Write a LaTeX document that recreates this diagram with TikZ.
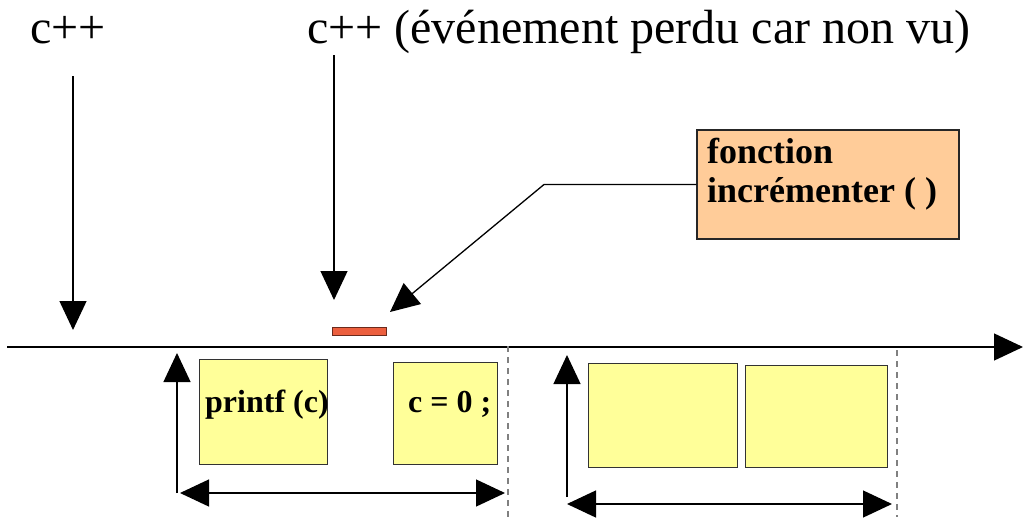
\documentclass[tikz,border=0pt]{standalone}
\usepackage{fontspec}
\setmainfont{Liberation Serif}
\usetikzlibrary{arrows.meta}
\definecolor{boxyellow}{HTML}{FFFF99}
\definecolor{boxorange}{HTML}{FFCC99}
\definecolor{eventred}{HTML}{EC5F3E}
\definecolor{eventedge}{HTML}{6B2A1C}
\definecolor{sepgray}{HTML}{808080}
\tikzset{
  px/.style={x={(1pt,0)},y={(0,-1pt)}},
  bigtip/.tip={Triangle[width=27pt,length=29pt]},
  conn/.style={line width=1.3pt,-bigtip},
  both/.style={line width=1.3pt,bigtip-bigtip},
  codebox/.style={draw=black!80,line width=0.9pt,fill=boxyellow,inner sep=0pt},
  notebox/.style={draw=black!85,line width=1.1pt,fill=boxorange,inner sep=0pt},
  sep/.style={draw=sepgray,line width=1.2pt,dash pattern=on 6pt off 5pt},
  toplabel/.style={anchor=base west,inner sep=0pt,font=\fontsize{48}{56}\selectfont},
  boldlabel/.style={anchor=base west,inner sep=0pt,font=\fontsize{32}{38}\selectfont\bfseries},
  notelabel/.style={anchor=base west,inner sep=0pt,font=\fontsize{36}{39}\selectfont\bfseries},
}
\begin{document}
\begin{tikzpicture}[px]
\useasboundingbox (0,0) rectangle (1023,517);

% labels above the time line
\node[toplabel] (inc1) at (30,43) {c++};
\node[toplabel] (inc2) at (307,43) {c++ (événement perdu car non vu)};

% time line
\coordinate (t0) at (7,347);
\coordinate (t1) at (1023,347);
\draw[conn] (t0) -- (t1);

% lost event marker
\node[draw=eventedge,line width=0.9pt,fill=eventred,minimum width=54pt,minimum height=8pt,inner sep=0pt] (evt) at (359,331) {};

% event arrows
\coordinate (a1s) at (73,76);
\coordinate (a1e) at (73,330);
\draw[conn] (a1s) -- (a1e);
\coordinate (a2s) at (334,55);
\coordinate (a2e) at (334,300);
\draw[conn] (a2s) -- (a2e);

% function note with its callout
\node[notebox,minimum width=262pt,minimum height=109pt] (note) at (828,184.5) {};
\node[notelabel] (noteA) at (707,163) {fonction};
\node[notelabel] (noteB) at (707,202) {incrémenter ( )};
\coordinate (bend) at (544,184.5);
\coordinate (tip) at (390,312);
\draw[conn] (note.west) -- (bend) -- (tip);

% first loop iteration
\node[codebox,minimum width=128pt,minimum height=105pt] (pr) at (263,411.5) {};
\node[boldlabel] (prt) at (205,412) {printf (c)};
\node[codebox,minimum width=104pt,minimum height=102pt] (rz) at (445,413) {};
\node[boldlabel] (rzt) at (408,412) {c = 0 ;};
\coordinate (u1s) at (177,493);
\coordinate (u1e) at (177,353);
\draw[conn] (u1s) -- (u1e);
\coordinate (d1a) at (180,493);
\coordinate (d1b) at (505,493);
\draw[both] (d1a) -- (d1b);
\coordinate (s1a) at (508,346);
\coordinate (s1b) at (508,517);
\draw[sep] (s1a) -- (s1b);

% second loop iteration
\node[codebox,minimum width=149pt,minimum height=104pt] (b3) at (662.5,415) {};
\node[codebox,minimum width=142pt,minimum height=102pt] (b4) at (816,416) {};
\coordinate (u2s) at (567,497);
\coordinate (u2e) at (567,355);
\draw[conn] (u2s) -- (u2e);
\coordinate (d2a) at (567,504);
\coordinate (d2b) at (892,504);
\draw[both] (d2a) -- (d2b);
\coordinate (s2a) at (897,350);
\coordinate (s2b) at (897,517);
\draw[sep] (s2a) -- (s2b);
\end{tikzpicture}
\end{document}
